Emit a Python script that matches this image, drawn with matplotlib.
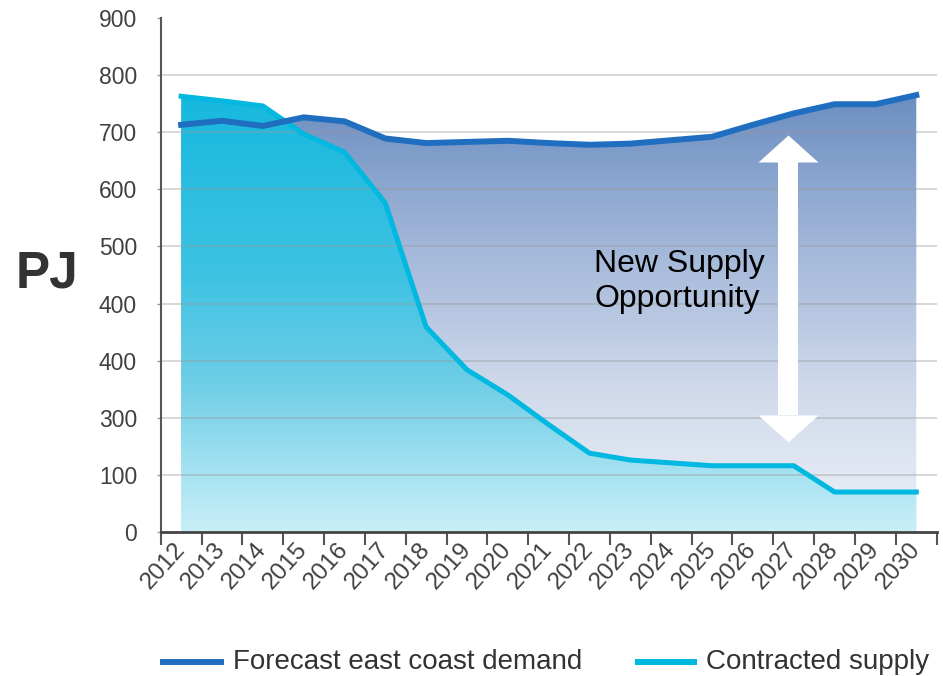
import numpy as np
import matplotlib
matplotlib.use('Agg')
import matplotlib.pyplot as plt
from matplotlib.colors import LinearSegmentedColormap
from matplotlib.lines import Line2D
from matplotlib.path import Path

plt.rcParams['font.family'] = ['Liberation Sans', 'DejaVu Sans']

# ---------------- data ----------------
years = ['2012', '2013', '2014', '2015', '2016', '2017', '2018', '2019', '2020', '2021',
         '2022', '2023', '2024', '2025', '2026', '2027', '2028', '2029', '2030']
demand = [713, 720, 711, 726, 719, 689, 681, 683, 685, 681,
          678, 680, 686, 692, 713, 733, 749, 749, 765]
supply = [763, 755, 746, 697, 665, 576, 359, 284, 240, 188,
          138, 126, 121, 116, 116, 116, 70, 70, 70]
ytick_values = [0, 100, 200, 300, 400, 500, 600, 700, 800, 900]
ytick_labels = ['0', '100', '300', '400', '400', '500', '600', '700', '800', '900']
series_labels = ['Forecast east coast demand', 'Contracted supply']
annotation_text = 'New Supply\nOpportunity'
axis_label = 'PJ'

# ---------------- style ----------------
demand_color = '#1f6ebf'
supply_color = '#00b8e0'

fig = plt.figure(figsize=(9.43, 6.76), dpi=100)
ax = fig.add_axes([160.7 / 943, 1 - 532 / 676, 776 / 943, 514 / 676])

x = np.arange(len(years))


def gradient_fill(xv, yv, stops, vmax, zorder):
    poly = ax.fill_between(xv, 0, yv, facecolor='none', edgecolor='none', zorder=zorder)
    cmap = LinearSegmentedColormap.from_list('g', stops)
    grad = np.linspace(0, 1, 256).reshape(-1, 1)
    im = ax.imshow(grad, cmap=cmap, aspect='auto', origin='lower',
                   extent=[xv[0], xv[-1], 0, vmax], zorder=zorder, interpolation='bilinear')
    im.set_clip_path(poly.get_paths()[0], transform=ax.transData)


demand_stops = [(0.0, '#eef2f8'), (0.33, '#cfd9eb'), (0.65, '#a2b7d9'), (1.0, '#6a8dc0')]
supply_stops = [(0.0, '#c9eff8'), (0.35, '#6ccde6'), (0.58, '#3ec3e3'), (1.0, '#16b8de')]
gradient_fill(x, demand, demand_stops, 770, 1)
gradient_fill(x, supply, supply_stops, 770, 2)

# gridlines
for v in ytick_values[1:-1]:
    ax.axhline(v, color='#999999', lw=1.2, alpha=0.45, zorder=2.5)

ax.plot(x, supply, color=supply_color, lw=3.6, zorder=3, solid_joinstyle='miter')
ax.plot(x, demand, color=demand_color, lw=4.3, zorder=3.5, solid_joinstyle='miter')

# double-headed white arrow
ax_x = 14.85
ax.plot([ax_x, ax_x], [205, 648], color='white', lw=14.4, solid_capstyle='butt', zorder=4)
up_head = Path([(-30, 0), (30, 0), (0, 27), (-30, 0)],
               [Path.MOVETO, Path.LINETO, Path.LINETO, Path.CLOSEPOLY])
down_head = Path([(-30, 0), (30, 0), (0, -27), (-30, 0)],
                 [Path.MOVETO, Path.LINETO, Path.LINETO, Path.CLOSEPOLY])
ax.plot([ax_x], [648], marker=up_head, markersize=43.2, color='white', markeredgewidth=0, zorder=4)
ax.plot([ax_x], [205], marker=down_head, markersize=43.2, color='white', markeredgewidth=0, zorder=4)

ax.text(10.11, 439, annotation_text, fontsize=23, color='black', ha='left', va='center',
        linespacing=1.22, zorder=5)

# axes
ax.set_xlim(-0.5, len(years) - 0.5)
ax.set_ylim(0, 900)
ax.set_xticks(x)
ax.set_xticklabels(years, rotation=48, ha='right', va='center', rotation_mode='anchor')
ax.set_xticks(np.arange(-0.5, len(years), 1), minor=True)
ax.tick_params(axis='x', which='major', length=0, pad=10, labelsize=17.5, labelcolor='#404040')
ax.tick_params(axis='x', which='minor', length=9.5, width=1.5, color='#555555')
ax.set_yticks(ytick_values)
ax.set_yticklabels(ytick_labels)
ax.tick_params(axis='y', length=3, width=1, color='#999999', pad=14, labelsize=16.5,
               labelcolor='#404040')
for s in ['top', 'right']:
    ax.spines[s].set_visible(False)
ax.spines['left'].set_color('#555555')
ax.spines['left'].set_linewidth(1.5)
ax.spines['bottom'].set_color('#444444')
ax.spines['bottom'].set_linewidth(2)
ax.spines['bottom'].set_zorder(6)

fig.text(47 / 943, 1 - 274 / 676, axis_label, fontsize=37, fontweight='bold',
         ha='center', va='center', color='#333333')

# legend (manual)
ly = 1 - 662 / 676
fig.add_artist(Line2D([163 / 943, 221 / 943], [ly, ly], transform=fig.transFigure,
                      color=demand_color, lw=4.3))
fig.text(233 / 943, ly, series_labels[0], fontsize=20, color='#333333', va='center', ha='left')
fig.add_artist(Line2D([638 / 943, 694 / 943], [ly, ly], transform=fig.transFigure,
                      color=supply_color, lw=4.3))
fig.text(706 / 943, ly, series_labels[1], fontsize=20, color='#333333', va='center', ha='left')

fig.savefig('out.png', dpi=100)
